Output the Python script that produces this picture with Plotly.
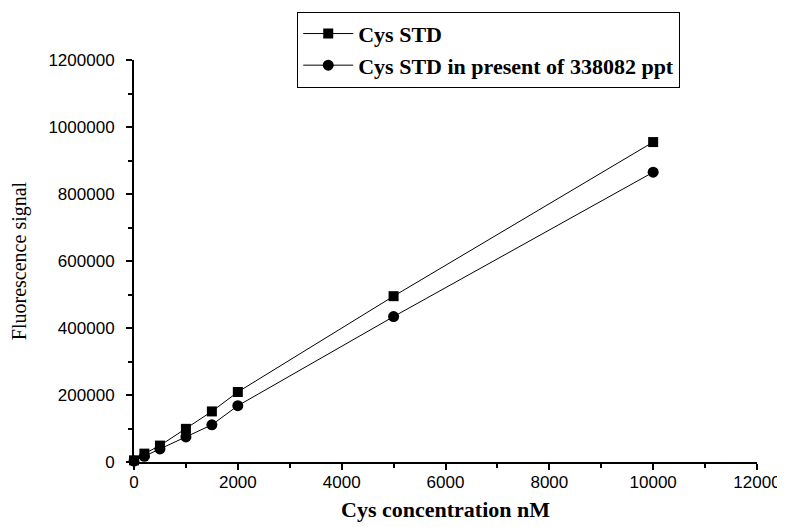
import plotly.graph_objects as go

# Cys concentration (nM)
concentration = [0, 200, 500, 1000, 1500, 2000, 5000, 10000]

# Fluorescence signal
cys_std = [5000, 25000, 49000, 99000, 151000, 209000, 495000, 955000]
cys_std_ppt = [3000, 17000, 39000, 75000, 111000, 168000, 434000, 865000]

series_names = ["Cys STD", "Cys STD in present of 338082 ppt"]
markers = ["square", "circle"]

fig = go.Figure()

for name, values, symbol in zip(series_names, [cys_std, cys_std_ppt], markers):
    fig.add_trace(
        go.Scatter(
            x=concentration,
            y=values,
            mode="lines+markers",
            name=name,
            line=dict(color="black", width=1),
            marker=dict(symbol=symbol, color="black", size=10 if symbol == "square" else 11),
            cliponaxis=False,
        )
    )

axis_common = dict(
    showline=True,
    linecolor="black",
    linewidth=2,
    ticks="outside",
    ticklen=6,
    tickwidth=2,
    tickcolor="black",
    showgrid=False,
    zeroline=False,
    tickfont=dict(family="Liberation Sans, Arial", size=17, color="black"),
)

# page body adds an 8px offset, so the figure is a little smaller than the window
fig.update_layout(
    width=777,
    height=519,
    paper_bgcolor="white",
    plot_bgcolor="white",
    margin=dict(l=126, r=28, t=52, b=65, autoexpand=False),
    showlegend=True,
    legend=dict(
        x=0.262,
        y=1.12,
        xanchor="left",
        yanchor="top",
        bordercolor="black",
        borderwidth=1,
        bgcolor="white",
        tracegroupgap=0,
        itemwidth=50,
        font=dict(family="Liberation Serif, Times New Roman", size=22, color="black", weight="bold"),
    ),
    xaxis=dict(
        range=[0, 12000],
        dtick=2000,
        tickformat="d",
        ticklabelstandoff=-2,
        minor=dict(dtick=1000, ticks="outside", ticklen=4, tickwidth=2, tickcolor="black"),
        title=dict(
            text="Cys concentration nM",
            font=dict(family="Liberation Serif, Times New Roman", size=22, color="black", weight="bold"),
            standoff=10,
        ),
        **axis_common,
    ),
    yaxis=dict(
        range=[0, 1200000],
        dtick=200000,
        tickformat="d",
        ticklabelstandoff=8,
        minor=dict(dtick=100000, ticks="outside", ticklen=4, tickwidth=2, tickcolor="black"),
        title=dict(
            text="Fluorescence signal",
            font=dict(family="Liberation Serif, Times New Roman", size=20, color="black"),
            standoff=19,
        ),
        **axis_common,
    ),
)

fig.write_html("out.html")
